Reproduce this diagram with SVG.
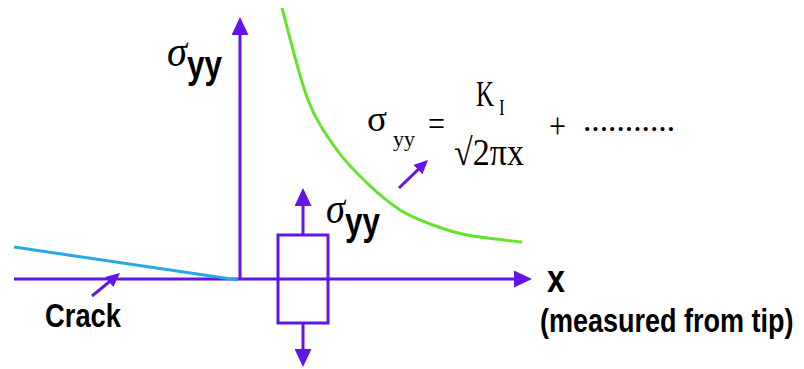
<svg xmlns="http://www.w3.org/2000/svg" width="804" height="369" viewBox="0 0 804 369">
<style>
.ax{stroke:#6414e6;stroke-width:3;fill:none}
.sans{font-family:"Liberation Sans",Arial,sans-serif;font-weight:bold;fill:#000}
.serif{font-family:"Liberation Serif","Times New Roman",serif;fill:#000}
.it{font-style:italic}
</style>
<defs>
<marker id="big" viewBox="0 0 18 17" refX="8" refY="8.5" markerWidth="18" markerHeight="17" markerUnits="userSpaceOnUse" orient="auto">
<path d="M0,0 L18,8.5 L0,17 z" fill="#6414e6"/>
</marker>
<marker id="small" viewBox="0 0 14 13" refX="6" refY="6.5" markerWidth="14" markerHeight="13" markerUnits="userSpaceOnUse" orient="auto">
<path d="M0,0 L14,6.5 L0,13 z" fill="#6414e6"/>
</marker>
</defs>
<rect width="804" height="369" fill="#fff"/>
<g id="curve">
<path d="M282,8 C286.3,23.3 298.8,76.3 308,100 C317.2,123.7 327.2,136.2 337,150 C346.8,163.8 356.5,173 367,183 C377.5,193 389,203 400,210 C411,217 421.8,220.8 433,225 C444.2,229.2 452.5,232.2 467,235 C481.5,237.8 511.2,240.8 522,242" fill="none" stroke="#66e22e" stroke-width="3"/>
</g>
<g id="element">
<rect x="278" y="235" width="50" height="88" class="ax"/>
</g>
<g id="connectors">
<line x1="240" y1="279" x2="240" y2="27" class="ax" marker-end="url(#big)"/>
<line x1="14" y1="279" x2="522" y2="279" class="ax" marker-end="url(#big)"/>
<line x1="303" y1="235" x2="303" y2="198" class="ax" marker-end="url(#big)"/>
<line x1="303" y1="323" x2="303" y2="357" class="ax" marker-end="url(#big)"/>
<line x1="92" y1="296" x2="113.8" y2="278.1" class="ax" stroke-width="3.5" marker-end="url(#small)"/>
<line x1="399" y1="188" x2="422.2" y2="165.6" class="ax" stroke-width="4" marker-end="url(#small)"/>
</g>
<g id="crack">
<line x1="14" y1="247" x2="238" y2="280" stroke="#2aa8e6" stroke-width="3"/>
</g>
<g id="label-sigma-axis">
<text x="167" y="66" class="serif it" font-size="44" textLength="20" lengthAdjust="spacingAndGlyphs">σ</text>
<text x="187" y="78" class="sans" font-size="38" textLength="35" lengthAdjust="spacingAndGlyphs">yy</text>
</g>
<g id="label-sigma-box">
<text x="326" y="223" class="serif it" font-size="44" textLength="19" lengthAdjust="spacingAndGlyphs">σ</text>
<text x="345" y="235" class="sans" font-size="38" textLength="35" lengthAdjust="spacingAndGlyphs">yy</text>
</g>
<g id="formula">
<text x="367" y="131" class="serif" font-size="36" textLength="20" lengthAdjust="spacingAndGlyphs">σ</text>
<text x="393" y="146" class="serif" font-size="22" textLength="22" lengthAdjust="spacingAndGlyphs">yy</text>
<text x="428" y="136" class="serif" font-size="36" textLength="17" lengthAdjust="spacingAndGlyphs">=</text>
<text transform="translate(476,106) scale(1,1.4)" class="serif" font-size="25">K</text>
<text transform="translate(499,115) scale(1,1.4)" class="serif" font-size="17">I</text>
<text x="454" y="165" class="serif" font-size="38" textLength="70" lengthAdjust="spacingAndGlyphs">√2πx</text>
<text x="549" y="138" class="serif" font-size="36" textLength="17" lengthAdjust="spacingAndGlyphs">+</text>
<text x="583" y="131" class="serif" font-size="34" textLength="92" lengthAdjust="spacingAndGlyphs">...........</text>
</g>
<g id="label-crack">
<text x="45" y="327" class="sans" font-size="34" textLength="76" lengthAdjust="spacingAndGlyphs">Crack</text>
</g>
<g id="label-x">
<text x="547" y="292" class="sans" font-size="38" textLength="18" lengthAdjust="spacingAndGlyphs">x</text>
<text transform="translate(540,332) scale(1,1.25)" class="sans" font-size="27">(measured from tip)</text>
</g>
</svg>
